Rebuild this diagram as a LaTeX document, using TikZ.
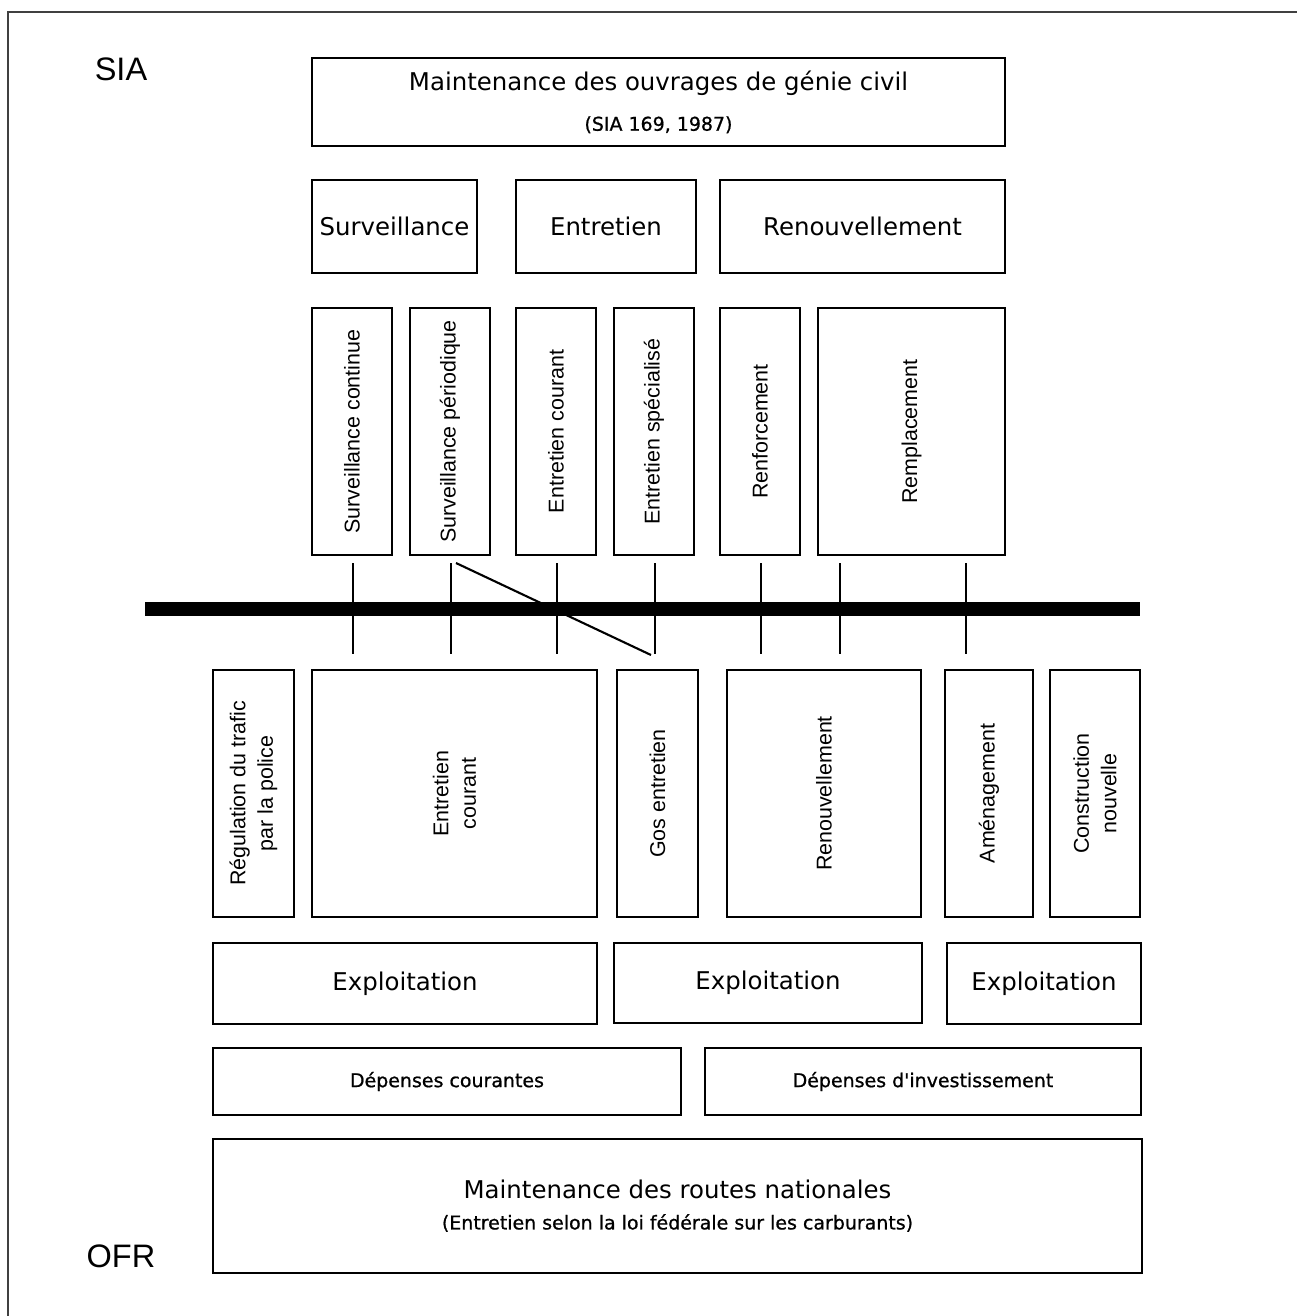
\documentclass[tikz,border=0pt]{standalone}
\usepackage{fontspec}
\setmainfont{DejaVu Sans}[Ligatures=TeXOff]
\newfontfamily\semifont{DejaVu Sans}[FakeBold=0.9, Ligatures=TeXOff]
\newfontfamily\arfont{Liberation Sans}
\newcommand\smalltxt{\semifont\fontsize{10.8}{13}\selectfont}
\tikzset{
  hbox/.style={draw, line width=1.5pt, inner sep=0pt, outer sep=0pt, align=center,
    font=\fontsize{13.9}{17}\selectfont},
  thinbox/.style={draw, line width=0.6pt, inner sep=0pt, outer sep=0pt, align=center,
    font=\smalltxt},
  vtbox/.style={draw, line width=1.5pt, inner sep=0pt, outer sep=0pt, align=center,
    font=\arfont\fontsize{12.2}{15.6}\selectfont},
  tickline/.style={line width=1.2pt},
  barline/.style={line width=7.9pt},
  frameline/.style={line width=1.2pt, black!75},
  sidelabel/.style={font=\arfont\fontsize{18.5}{22}\selectfont, inner sep=0pt}
}
% horizontal box: name, x1, y1, x2, y2, style, text
\newcommand\hbx[7]{\node[#6, minimum width={(#4-#2)*0.02cm}, minimum height={(#5-#3)*0.02cm}] (#1) at ({(#2+#4)/2},{(#3+#5)/2}) {#7};}
% vertical-text box
\newcommand\vbx[7]{\node[#6, rotate=90, minimum width={(#5-#3)*0.02cm}, minimum height={(#4-#2)*0.02cm}] (#1) at ({(#2+#4)/2},{(#3+#5)/2}) {#7};}
\begin{document}
\begin{tikzpicture}[x=0.02cm, y=-0.02cm]
\useasboundingbox (0,0) rectangle (1297,1316);
% frame
\coordinate (fBL) at (8,1316);
\coordinate (fTL) at (8,12);
\coordinate (fTR) at (1297,12);
\draw[frameline] (fBL) -- (fTL) -- (fTR);

\node[sidelabel] (sia) at (121,69) {SIA};
\node[sidelabel] (ofr) at (121,1256) {OFR};

% SIA part
\hbx{top}{312}{58}{1005}{146}{hbox}{Maintenance des ouvrages de génie civil\\[6pt]{\smalltxt (SIA 169, 1987)}}
\hbx{surv}{312}{180}{477}{273}{hbox}{Surveillance}
\hbx{entr}{516}{180}{696}{273}{hbox}{Entretien}
\hbx{renv}{720}{180}{1005}{273}{hbox}{Renouvellement}

\vbx{sc}{312}{308}{392}{555}{vtbox}{Surveillance continue}
\vbx{sp}{410}{308}{490}{555}{vtbox}{Surveillance périodique}
\vbx{ec}{516}{308}{596}{555}{vtbox}{Entretien courant}
\vbx{es}{614}{308}{694}{555}{vtbox}{Entretien spécialisé}
\vbx{rf}{720}{308}{800}{555}{vtbox}{Renforcement}
\vbx{rp}{818}{308}{1005}{555}{vtbox}{Remplacement}

% bar
\coordinate (barL) at (145,609);
\coordinate (barR) at (1140,609);
\draw[barline] (barL) -- (barR);

% ticks
\foreach \i/\x in {1/353, 2/451, 3/557, 4/655, 5/761, 6/840, 7/966}{
  \coordinate (t\i) at (\x,563);
  \coordinate (b\i) at (\x,654);
  \draw[tickline] (t\i) -- (b\i);
}
\coordinate (dA) at (456,563);
\coordinate (dB) at (651,655);
\draw[tickline] (dA) -- (dB);

% OFR part
\vbx{reg}{213}{670}{294}{917}{vtbox}{Régulation du trafic\\par la police}
\vbx{ecb}{312}{670}{597}{917}{vtbox}{Entretien\\courant}
\vbx{gos}{617}{670}{698}{917}{vtbox}{Gos entretien}
\vbx{renb}{727}{670}{921}{917}{vtbox}{Renouvellement}
\vbx{amen}{945}{670}{1033}{917}{vtbox}{Aménagement}
\vbx{cons}{1050}{670}{1140}{917}{vtbox}{Construction\\nouvelle}

\hbx{ex1}{213}{943}{597}{1024}{hbox}{Exploitation}
\hbx{ex2}{614}{943}{922}{1023}{hbox}{Exploitation}
\hbx{ex3}{947}{943}{1141}{1024}{hbox}{Exploitation}

\hbx{dc}{213}{1048}{681}{1115}{thinbox}{Dépenses courantes}
\hbx{di}{705}{1048}{1141}{1115}{thinbox}{Dépenses d'investissement}

\hbx{mrn}{213}{1139}{1142}{1273}{hbox}{Maintenance des routes nationales\\[0.5pt]{\smalltxt (Entretien selon la loi fédérale sur les carburants)}}
\end{tikzpicture}
\end{document}
